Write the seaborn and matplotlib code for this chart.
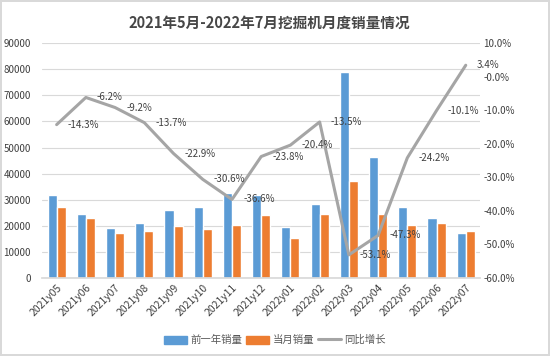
import numpy as np
import pandas as pd
import matplotlib
matplotlib.use("Agg")
import matplotlib.pyplot as plt
import seaborn as sns
from matplotlib.patches import Patch
from matplotlib.lines import Line2D
from matplotlib.ticker import FuncFormatter

months = ["2021y05", "2021y06", "2021y07", "2021y08", "2021y09", "2021y10",
          "2021y11", "2021y12", "2022y01", "2022y02", "2022y03", "2022y04",
          "2022y05", "2022y06", "2022y07"]
prev_year = [31800, 24700, 19000, 20900, 26200, 27400, 32400, 31800,
             19700, 28500, 79000, 46500, 27200, 23100, 17400]
this_month = [27200, 23100, 17400, 18100, 20100, 18800, 20500, 24100,
              15500, 24500, 37200, 24500, 20500, 20900, 18000]
yoy = [-14.3, -6.2, -9.2, -13.7, -22.9, -30.6, -36.6, -23.8,
       -20.4, -13.5, -53.1, -47.3, -24.2, -10.1, 3.4]

title = "2021年5月-2022年7月挖掘机月度销量情况"
series_names = ["前一年销量", "当月销量", "同比增长"]
colors = ["#5B9BD5", "#ED7D31", "#A5A5A5"]

sns.set_theme(style="white")
plt.rcParams["font.family"] = ["Noto Sans CJK SC", "DejaVu Sans"]

df = pd.DataFrame({
    "month": months * 2,
    "sales": prev_year + this_month,
    "series": [series_names[0]] * len(months) + [series_names[1]] * len(months),
})

fig = plt.figure(figsize=(5.5, 3.56), dpi=100, edgecolor="#D9D9D9", linewidth=1.5)
ax = fig.add_axes([0.0764, 0.219, 0.797, 0.66])

sns.barplot(data=df, x="month", y="sales", hue="series", palette=colors[:2],
            width=0.62, gap=0, saturation=1, legend=False, ax=ax)
ax.set_ylim(0, 90000)
ax.set_yticks(np.arange(0, 90001, 10000))
ax.set_xlim(-0.5, len(months) - 0.5)
ax.grid(axis="y", color="#D9D9D9", linewidth=0.8)
ax.set_axisbelow(True)
ax.set_xlabel("")
ax.set_ylabel("")
for s in ["top", "right", "left"]:
    ax.spines[s].set_visible(False)
ax.spines["bottom"].set_color("#D9D9D9")
ax.tick_params(axis="both", length=0, labelsize=7, colors="#404040")
ax.tick_params(axis="y", pad=8)
ax.tick_params(axis="x", labelsize=7.5, pad=3)
for lab in ax.get_xticklabels():
    lab.set_rotation(45)
    lab.set_ha("right")
    lab.set_rotation_mode("anchor")

ax2 = ax.twinx()
sns.lineplot(x=np.arange(len(months)), y=np.array(yoy) / 100, ax=ax2,
             color=colors[2], linewidth=2.2)
ax2.set_ylim(-0.6, 0.1)
ax2.set_yticks(np.arange(-0.6, 0.101, 0.1))
ax2.yaxis.set_major_formatter(FuncFormatter(lambda v, p: f"{v * 100:.1f}%"))
ax2.tick_params(axis="y", length=0, labelsize=7, colors="#404040", pad=2)
for s in ["top", "right", "left", "bottom"]:
    ax2.spines[s].set_visible(False)
ax2.grid(False)
ax2.set_ylabel("")

for i, v in enumerate(yoy):
    ax2.annotate(f"{v:.1f}%", (i, v / 100), xytext=(8, 0), textcoords="offset points",
                 ha="left", va="center", fontsize=7, color="#404040")

fig.text(0.49, 0.937, title, ha="center", va="center", fontsize=10.5,
         fontweight="bold", color="#474747")

handles = [Patch(color=colors[0]), Patch(color=colors[1]),
           Line2D([0], [0], color=colors[2], linewidth=2.2)]
fig.legend(handles, series_names, loc="center", bbox_to_anchor=(0.5, 0.045),
           ncol=3, frameon=False, fontsize=7.5, handlelength=2.2,
           handleheight=0.8, columnspacing=0.4, handletextpad=0.3,
           labelcolor="#595959")

fig.savefig("out.png", dpi=100, edgecolor=fig.get_edgecolor())
